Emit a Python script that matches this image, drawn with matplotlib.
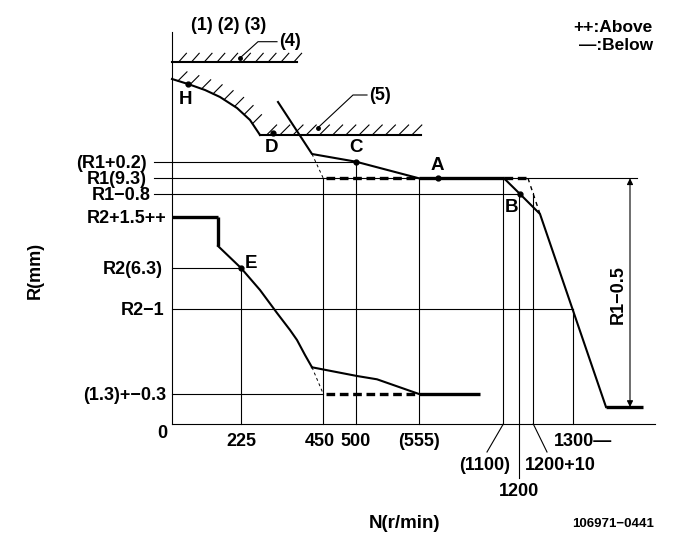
import matplotlib
matplotlib.use("Agg")
import matplotlib.pyplot as plt
import numpy as np

plt.rcParams['font.family'] = ['Liberation Sans', 'DejaVu Sans']
plt.rcParams['font.weight'] = 'bold'

# ---- diagram geometry (drawing units, y downward) ----
AX_X = 172; AX_TOP = 32; AX_BOT = 424; AX_RIGHT = 655

# reference levels (y) and labels
level_labels = ["(R1+0.2)", "R1(9.3)", "R1\u22120.8", "R2+1.5++", "R2(6.3)", "R2\u22121", "(1.3)+\u22120.3"]
level_y = [161.7, 178.3, 194.0, 216.7, 268.0, 309.3, 394.0]
level_x0 = [154, 154, 154, 172, 172, 172, 172]
level_x1 = [356, 637, 520, 172, 241, 573, 323]
level_tx = [147, 147, 151, 167, 163, 164, 166]

# speed reference positions
tick_labels = ["225", "450", "500", "(555)", "(1100)", "1200", "1200+10", "1300\u2014"]
tick_x = [241, 323.3, 356, 419.3, 503.3, 519.3, 533.3, 573.3]
tick_ytop = [268, 178.3, 161.7, 178.3, 178.3, 194, 193, 309.3]
tick_ybot = [424, 424, 424, 424, 424, 478, 424, 424]

# full-load (upper) characteristic
up_x = [278, 312, 356, 419]
up_y = [102, 154, 161.7, 178.3]
up_flat_x = [419, 504]
up_flat_y = [178.3, 178.3]
drop_x = [504, 520, 540, 606]
drop_y = [178.3, 194, 214, 407]
end_x = [606, 643]
end_y = [407, 407]
# below (dashed) branch
upd_x = [312, 323.3]
upd_y = [154, 178.3]
upd_flat_x = [326, 419]
dropd_x = [504, 528, 540]
dropd_y = [178.3, 178.3, 214]

# lower characteristic
lo_step_x = [172, 218, 218, 241]
lo_step_y = [216.7, 216.7, 246, 268]
lo_curve_x = [241, 260, 277, 290, 297, 305, 312]
lo_curve_y = [268, 290, 313, 330, 340, 355, 367.3]
lo_tail_x = [312, 357, 377, 419]
lo_tail_y = [367.3, 376, 379.3, 394]
lo_flat_x = [419, 480]
lo_flat_y = [394, 394]
lod_x = [312, 323.3]
lod_y = [367.3, 394]
lod_flat_x = [326, 419]

# hatched limit lines
h4_x = [172, 297]; h4_y = [62.3, 62.3]
hH_x = [172, 188, 205, 220, 237, 250, 260]
hH_y = [79, 84, 90, 97, 108, 120, 135]
h5_x = [260, 421]; h5_y = [135, 135]

points = {"H": (188, 83.5), "D": (272.7, 133.3), "C": (356, 161.7), "A": (437.7, 178.3),
          "B": (520, 194), "E": (241, 268)}
point_label_pos = {"H": (186, 99), "D": (271, 148), "C": (356, 148), "A": (437, 165),
                   "B": (512, 208), "E": (251, 264)}

fig = plt.figure(figsize=(6.81, 5.49), dpi=100)
ax = fig.add_axes([0, 0, 1, 1])
ax.set_xlim(0, 681)
ax.set_ylim(549, 0)
ax.axis('off')

K = 'black'
thin = 0.8
mid = 1.5
thick = 2.4
FS = 13
DY = 1.5  # small vertical nudge so labels sit centred on their lines

# axes
ax.plot([AX_X, AX_X], [AX_TOP, AX_BOT], color=K, lw=thin)
ax.plot([AX_X, AX_RIGHT], [AX_BOT, AX_BOT], color=K, lw=thin)

# level lines and labels
for lab, y, x0, x1, tx in zip(level_labels, level_y, level_x0, level_x1, level_tx):
    if x1 != x0:
        ax.plot([x0, x1], [y, y], color=K, lw=thin)
    ax.text(tx, y + DY, lab, ha='right', va='center', fontsize=FS)

# vertical speed lines
for x, y0, y1 in zip(tick_x, tick_ytop, tick_ybot):
    ax.plot([x, x], [y0, y1], color=K, lw=thin)

# tick labels
ax.text(162, 433, "0", ha='center', va='center', fontsize=FS)
for lab, x in zip(tick_labels[:4], tick_x[:4]):
    ax.text(x - (3 if lab == "450" else 0), 442, lab, ha='center', va='center', fontsize=FS)
ax.text(583, 442, tick_labels[7], ha='center', va='center', fontsize=FS)
ax.plot([503.3, 487], [424, 452], color=K, lw=thin)
ax.text(485, 466, tick_labels[4], ha='center', va='center', fontsize=FS)
ax.plot([533.3, 547], [424, 452], color=K, lw=thin)
ax.text(560, 466, tick_labels[6], ha='center', va='center', fontsize=FS)
ax.text(519.3, 491, tick_labels[5], ha='center', va='center', fontsize=FS)

# upper characteristic
ax.plot(up_x, up_y, color=K, lw=mid)
ax.plot(up_flat_x, up_flat_y, color=K, lw=thick, solid_capstyle='butt')
ax.plot(drop_x, drop_y, color=K, lw=mid)
ax.plot(end_x, end_y, color=K, lw=thick, solid_capstyle='butt')
ax.plot(upd_x, upd_y, color=K, lw=0.7, dashes=(3, 3))
ax.plot(upd_flat_x, [178.3, 178.3], color=K, lw=thick, dashes=(2.6, 1.4))
ax.plot(dropd_x[:2], dropd_y[:2], color=K, lw=thick, dashes=(2.6, 1.4))
ax.plot(dropd_x[1:], dropd_y[1:], color=K, lw=1.0, dashes=(3, 3))

# lower characteristic
ax.plot(lo_step_x[:2], lo_step_y[:2], color=K, lw=thick, solid_capstyle='butt')
ax.plot(lo_step_x[1:3], lo_step_y[1:3], color=K, lw=thick, solid_capstyle='butt')
ax.plot(lo_step_x[2:], lo_step_y[2:], color=K, lw=mid)
ax.plot(lo_curve_x, lo_curve_y, color=K, lw=mid)
ax.plot(lo_tail_x, lo_tail_y, color=K, lw=mid)
ax.plot(lo_flat_x, lo_flat_y, color=K, lw=thick, solid_capstyle='butt')
ax.plot(lod_x, lod_y, color=K, lw=0.7, dashes=(3, 3))
ax.plot(lod_flat_x, [394, 394], color=K, lw=thick, dashes=(2.6, 1.4))

# hatched limits
def hatch(xs, ys, spacing=12.5, dx=9, dy=-9):
    xs = np.asarray(xs, float); ys = np.asarray(ys, float)
    ax.plot(xs, ys, color=K, lw=mid)
    seg = np.hypot(np.diff(xs), np.diff(ys))
    cum = np.concatenate([[0], np.cumsum(seg)])
    for s in np.arange(spacing * 0.5, cum[-1] - 2, spacing):
        px = np.interp(s, cum, xs); py = np.interp(s, cum, ys)
        ax.plot([px, px + dx], [py, py + dy], color=K, lw=thin)

hatch(h4_x, h4_y, spacing=12.8, dx=8, dy=-9)
hatch(hH_x, hH_y, spacing=12.5, dx=9, dy=-9)
hatch(h5_x, h5_y, spacing=13.2, dx=10, dy=-10)

# leaders for (4) and (5)
ax.plot([240, 258, 277], [58, 41.7, 41.7], color=K, lw=thin)
ax.plot([240], [58], 'o', color=K, ms=2.5)
ax.text(279, 42, "(4)", ha='left', va='center', fontsize=FS)
ax.plot([318, 353, 367], [127.7, 95, 95], color=K, lw=thin)
ax.plot([318], [127.7], 'o', color=K, ms=2.5)
ax.text(369, 96, "(5)", ha='left', va='center', fontsize=FS)
ax.text(229, 25, "(1) (2) (3)", ha='center', va='center', fontsize=FS)

# labelled points
for k, (px, py) in points.items():
    ax.plot([px], [py], 'o', color=K, ms=3.5)
    lx, ly = point_label_pos[k]
    ax.text(lx, ly, k, ha='center', va='center', fontsize=13.5)

# dimension R1-0.5
ax.annotate("", xy=(630, 178.3), xytext=(630, 407),
            arrowprops=dict(arrowstyle='<|-|>', color=K, lw=thin,
                            mutation_scale=9, shrinkA=0, shrinkB=0))
ax.text(618, 295, "R1\u22120.5", rotation=90, ha='center', va='center', fontsize=FS)

# axis titles and notes
ax.text(35, 270, "R(mm)", rotation=90, ha='center', va='center', fontsize=FS)
ax.text(404, 524, "N(r/min)", ha='center', va='center', fontsize=13.5)
ax.text(613, 524, "106971\u22120441", ha='center', va='center', fontsize=9.5)
ax.text(653, 27, "++:Above", ha='right', va='center', fontsize=12.5)
ax.text(653, 46, "\u2014:Below", ha='right', va='center', fontsize=12.5)

fig.savefig("out.png", dpi=100)
